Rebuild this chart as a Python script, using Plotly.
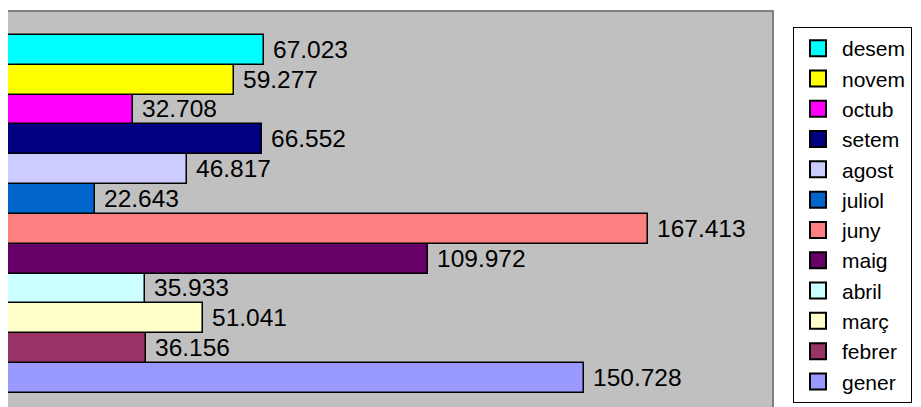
import plotly.graph_objects as go

# months from bottom to top, as in the chart
months = ["gener", "febrer", "març", "abril", "maig", "juny",
          "juliol", "agost", "setem", "octub", "novem", "desem"]
values = [150728, 36156, 51041, 35933, 109972, 167413,
          22643, 46817, 66552, 32708, 59277, 67023]
colors = ["#9999FF", "#993366", "#FFFFCC", "#CCFFFF", "#660066", "#FF8080",
          "#0066CC", "#CCCCFF", "#000080", "#FF00FF", "#FFFF00", "#00FFFF"]

FONT = "Arial, Liberation Sans, sans-serif"

fig = go.Figure()

# the bars, one trace per month
for m, v, c in zip(months, values, colors):
    fig.add_trace(go.Bar(
        x=[v], y=[m], orientation="h",
        marker=dict(color=c, line=dict(color="black", width=1.5)),
        texttemplate=" %{x:,}", textposition="outside",
        constraintext="none", cliponaxis=False,
        textfont=dict(family=FONT, size=24.5, color="black"),
        showlegend=False, hoverinfo="skip",
    ))

# legend entries (square swatches), desem on top
for m, c in zip(months[::-1], colors[::-1]):
    fig.add_trace(go.Scatter(
        x=[None], y=[None], mode="markers", name=m,
        marker=dict(symbol="square", size=16, color=c,
                    line=dict(color="black", width=2)),
    ))

# page body has an 8px margin, so the figure is sized to the visible area
fig.update_layout(
    width=913, height=399,
    margin=dict(l=0, r=149, t=4, b=0, autoexpand=False),
    paper_bgcolor="white", plot_bgcolor="#C0C0C0",
    barmode="overlay", bargap=0,
    separators=",.",
    font=dict(family=FONT, size=21, color="black"),
    showlegend=True,
    legend=dict(
        x=1.0275, y=0.962, xanchor="left", yanchor="top",
        bgcolor="white", bordercolor="black", borderwidth=1,
        font=dict(family=FONT, size=21, color="black"),
        traceorder="normal", itemwidth=38,
    ),
    xaxis=dict(range=[0, 200000], showgrid=False, zeroline=False,
               showticklabels=False, ticks="", side="top",
               showline=True, linecolor="#808080", linewidth=2),
    yaxis=dict(type="category", categoryorder="array", categoryarray=months,
               range=[-0.97, 12.27], showgrid=False, zeroline=False,
               showticklabels=False, ticks="",
               showline=True, mirror=True, linecolor="#808080", linewidth=2),
)

fig.write_html("out.html")
